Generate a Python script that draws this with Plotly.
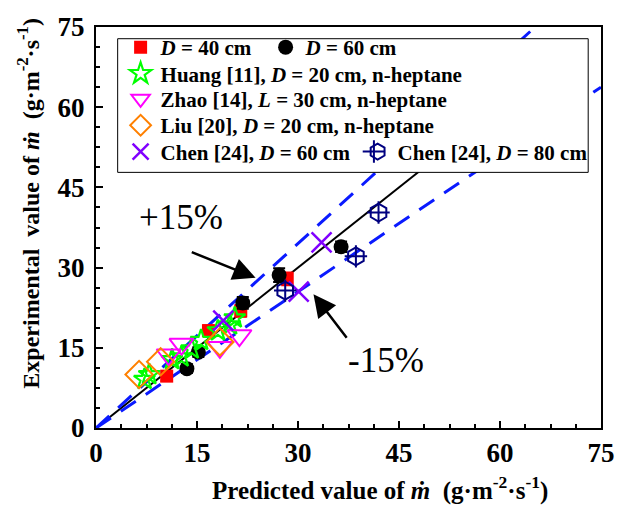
import plotly.graph_objects as go

# ---------------- data ----------------
d40_x = [10.5, 16.7, 21.5, 28.4]
d40_y = [9.7, 18.2, 21.9, 27.9]
d40_err = [0.9, 1.0, 1.1, 1.2]

d60_x = [13.5, 15.2, 21.8, 27.2, 36.4]
d60_y = [11.1, 14.2, 23.4, 28.6, 33.9]
d60_err = [0.8, 0.9, 1.1, 1.3, 1.0]

huang_x = [7.2, 7.9, 11.3, 12.7, 14.2, 15.6, 18.1, 19.9, 20.6]
huang_y = [9.1, 10.0, 12.8, 13.3, 14.8, 16.4, 18.2, 19.3, 20.6]

zhao_x = [10.8, 12.7, 18.4, 21.3]
zhao_y = [13.7, 15.7, 15.1, 17.3]

liu_x = [6.4, 9.6, 18.4]
liu_y = [10.0, 12.4, 16.1]

chen60_x = [18.9, 30.1, 33.5]
chen60_y = [20.1, 25.5, 34.7]

chen80_x = [28.1, 38.6, 41.96]
chen80_y = [25.7, 32.1, 40.3]

fit_x = [0, 60]
band_x = [0, 75]
upper_factor = 1.15
lower_factor = 0.85

tick_vals = [0, 15, 30, 45, 60, 75]

# ---------------- figure ----------------
SERIF = "Liberation Serif"
fig = go.Figure()

fig.add_trace(go.Scatter(x=fit_x, y=fit_x, mode="lines",
                         line=dict(color="black", width=2), showlegend=False, hoverinfo="skip"))
fig.add_trace(go.Scatter(x=band_x, y=[v * upper_factor for v in band_x], mode="lines",
                         line=dict(color="#0a1aff", width=3, dash="18px,12px"),
                         showlegend=False, hoverinfo="skip"))
fig.add_trace(go.Scatter(x=band_x, y=[v * lower_factor for v in band_x], mode="lines",
                         line=dict(color="#0a1aff", width=3, dash="18px,12px"),
                         showlegend=False, hoverinfo="skip"))

fig.add_trace(go.Scatter(x=d40_x, y=d40_y, mode="markers", name="<i>D</i> = 40 cm",
                         marker=dict(symbol="square", color="#ff0000", size=13),
                         error_y=dict(type="data", array=d40_err, color="#ff0000", thickness=2, width=6),
                         legend="legend"))
fig.add_trace(go.Scatter(x=d60_x, y=d60_y, mode="markers", name="<i>D</i> = 60 cm",
                         marker=dict(symbol="circle", color="black", size=15),
                         error_y=dict(type="data", array=d60_err, color="black", thickness=2, width=6),
                         legend="legend"))
fig.add_trace(go.Scatter(x=huang_x, y=huang_y, mode="markers",
                         name="Huang [11], <i>D</i> = 20 cm, n-heptane",
                         marker=dict(symbol="star-open", color="#00ff00", size=16,
                                     line=dict(width=2.2, color="#00ff00")),
                         legend="legend2"))
fig.add_trace(go.Scatter(x=zhao_x, y=zhao_y, mode="markers",
                         name="Zhao [14], <i>L</i> = 30 cm, n-heptane",
                         marker=dict(symbol="triangle-down-open", color="#ff00ff", size=21,
                                     line=dict(width=2, color="#ff00ff")),
                         legend="legend3"))
fig.add_trace(go.Scatter(x=liu_x, y=liu_y, mode="markers",
                         name="Liu [20], <i>D</i> = 20 cm, n-heptane",
                         marker=dict(symbol="diamond-open", color="#ff8000", size=21,
                                     line=dict(width=2, color="#ff8000")),
                         legend="legend4"))
fig.add_trace(go.Scatter(x=chen60_x, y=chen60_y, mode="markers",
                         name="Chen [24], <i>D</i> = 60 cm",
                         marker=dict(symbol="x-thin-open", color="#8000ff", size=20,
                                     line=dict(width=2.5, color="#8000ff")),
                         legend="legend5"))
fig.add_trace(go.Scatter(x=chen80_x, y=chen80_y, mode="markers",
                         name="Chen [24], <i>D</i> = 80 cm",
                         marker=dict(symbol="hexagon-open", color="#000080", size=18,
                                     line=dict(width=2, color="#000080")),
                         legend="legend5"))
fig.add_trace(go.Scatter(x=chen80_x, y=chen80_y, mode="markers",
                         name=" ",
                         marker=dict(symbol="cross-thin-open", color="#000080", size=16,
                                     line=dict(width=2, color="#000080")),
                         legend="legend6"))

legend_font = dict(family=SERIF, size=21, color="black", weight="bold")
common_leg = dict(bgcolor="rgba(0,0,0,0)", borderwidth=0, font=legend_font,
                  xanchor="left", yanchor="middle", tracegroupgap=0, itemclick=False,
                  orientation="h")

def px_x(p):
    return (p - 96) / 513

def px_y(p):
    return (428 - p) / 411

LEG_DY = -7  # correction between requested centre and drawn text row

axis_common = dict(range=[0, 75], tickvals=tick_vals, showgrid=False, zeroline=False,
                   showline=True, linewidth=2, linecolor="black", mirror=True,
                   ticks="inside", ticklen=7, tickwidth=2, tickcolor="black",
                   minor=dict(dtick=3.75, ticks="inside", ticklen=4, tickwidth=1.5, tickcolor="black"),
                   tickfont=dict(family=SERIF, size=27, color="black", weight="bold"))

fig.update_layout(
    width=627, height=510,
    margin=dict(l=96, r=18, t=17, b=82),
    paper_bgcolor="white", plot_bgcolor="white",
    xaxis=dict(**axis_common, ticklabelstandoff=0),
    yaxis=dict(**axis_common, ticklabelstandoff=4),
    legend=dict(**common_leg, x=px_x(121), y=px_y(45 + LEG_DY), entrywidth=100),
    legend2=dict(**common_leg, x=px_x(121), y=px_y(72 + LEG_DY)),
    legend3=dict(**common_leg, x=px_x(121), y=px_y(98 + LEG_DY)),
    legend4=dict(**common_leg, x=px_x(121), y=px_y(125 + LEG_DY)),
    legend5=dict(**common_leg, x=px_x(121), y=px_y(152 + LEG_DY), entrywidth=192),
    legend6=dict(**common_leg, x=px_x(358), y=px_y(152 + LEG_DY)),
    shapes=[dict(type="rect", xref="paper", yref="paper",
                 x0=px_x(118), x1=px_x(596), y0=px_y(166), y1=px_y(29),
                 fillcolor="white", line=dict(color="black", width=1), layer="above")],
    annotations=[
        dict(xref="paper", yref="paper", x=px_x(385), y=px_y(490), showarrow=False,
             xanchor="center", yanchor="middle",
             text="Predicted value of <i>ṁ</i>&nbsp;&nbsp;(g·m<sup>-2</sup>·s<sup>-1</sup>)",
             font=dict(family=SERIF, size=25, color="black", weight="bold")),
        dict(xref="paper", yref="paper", x=px_x(27), y=px_y(198), showarrow=False, textangle=-90,
             xanchor="center", yanchor="middle",
             text="Experimental&nbsp;&nbsp;value of <i>ṁ</i>&nbsp;&nbsp;(g·m<sup>-2</sup>·s<sup>-1</sup>)",
             font=dict(family=SERIF, size=24, color="black", weight="bold")),
        dict(x=23.7, y=28.1, ax=14.0, ay=33.0, xref="x", yref="y", axref="x", ayref="y",
             text="", showarrow=True, arrowhead=2, arrowsize=1.8, arrowwidth=2.5, arrowcolor="black"),
        dict(x=32.3, y=25.0, ax=37.4, ay=16.6, xref="x", yref="y", axref="x", ayref="y",
             text="", showarrow=True, arrowhead=2, arrowsize=1.8, arrowwidth=2.5, arrowcolor="black"),
        dict(x=12.6, y=39.3, xref="x", yref="y", showarrow=False, text="+15%",
             xanchor="center", yanchor="middle",
             font=dict(family=SERIF, size=35, color="black")),
        dict(x=43.1, y=12.6, xref="x", yref="y", showarrow=False, text="-15%",
             xanchor="center", yanchor="middle",
             font=dict(family=SERIF, size=35, color="black")),
    ],
)

fig.write_html("out.html")
